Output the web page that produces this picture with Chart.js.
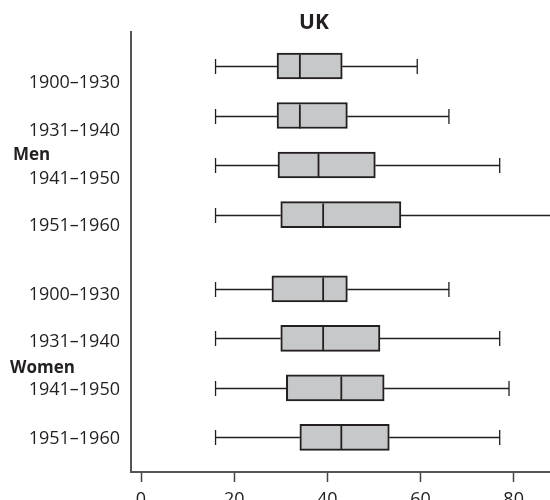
<!DOCTYPE html>
<html>
<head>
<meta charset="utf-8">
<script src="https://cdn.jsdelivr.net/npm/chart.js@4"></script>
<style>
  body { margin: 0; background: #fff; }
  #wrap { width: 550px; height: 500px; }
</style>
</head>
<body>
<div id="wrap"><canvas id="chart"></canvas></div>
<script>
const periods = ['1900–1930', '1931–1940', '1941–1950', '1951–1960'];
const groups = ['Men', 'Women'];

const menMin = [16, 16, 16, 16];
const menQ1 = [29.2, 29.2, 29.4, 30];
const menMed = [34.1, 34.1, 38.1, 39.1];
const menQ3 = [43.2, 44.3, 50.3, 55.8];
const menMax = [59.3, 66.1, 77, 90];

const womenMin = [16, 16, 16, 16];
const womenQ1 = [28.1, 30, 31.2, 34.1];
const womenMed = [39.1, 39.1, 43, 43];
const womenQ3 = [44.3, 51.3, 52.2, 53.3];
const womenMax = [66.1, 77, 79, 77];

const xTicks = [0, 20, 40, 60, 80];

// row slots on the vertical axis (men 0-3, gap, women 4.5-7.5)
const rowPos = [0, 1, 2, 3, 4.5, 5.5, 6.5, 7.5];

const mins = menMin.concat(womenMin);
const q1s = menQ1.concat(womenQ1);
const meds = menMed.concat(womenMed);
const q3s = menQ3.concat(womenQ3);
const maxs = menMax.concat(womenMax);
const rowLabels = periods.concat(periods);

const FONT = '"Open Sans", "Noto Sans", sans-serif';
const INK = '#231f20';

// label placement (in row units) for the left-hand text
const labelAt = [0.34, 1.3, 2.27, 3.23, 4.63, 5.58, 6.55, 7.54];
const groupAt = [1.8, 6.1];

const boxPlot = {
  id: 'boxPlot',
  afterDatasetsDraw(chart) {
    const { ctx, chartArea } = chart;
    const x = chart.scales.x, y = chart.scales.y;
    ctx.save();
    ctx.beginPath();
    ctx.rect(chartArea.left, 0, chartArea.right - chartArea.left + 1, chartArea.bottom);
    ctx.clip();
    ctx.strokeStyle = INK;
    rowPos.forEach((p, i) => {
      const cy = Math.round(y.getPixelForValue(p)) + 0.5;
      const xMin = x.getPixelForValue(mins[i]);
      const xQ1 = x.getPixelForValue(q1s[i]);
      const xQ3 = x.getPixelForValue(q3s[i]);
      const xMax = x.getPixelForValue(maxs[i]);
      const xMed = x.getPixelForValue(meds[i]);
      ctx.lineWidth = 1.3;
      ctx.beginPath();
      ctx.moveTo(xMin, cy); ctx.lineTo(xQ1, cy);
      ctx.moveTo(xQ3, cy); ctx.lineTo(xMax, cy);
      ctx.moveTo(xMin, cy - 7.5); ctx.lineTo(xMin, cy + 7.5);
      ctx.moveTo(xMax, cy - 7.5); ctx.lineTo(xMax, cy + 7.5);
      ctx.stroke();
      ctx.lineWidth = 1.8;
      ctx.beginPath();
      ctx.moveTo(xMed, cy - 12); ctx.lineTo(xMed, cy + 12);
      ctx.stroke();
    });
    ctx.restore();

    ctx.save();
    ctx.fillStyle = INK;
    ctx.textBaseline = 'middle';
    ctx.textAlign = 'right';
    ctx.font = '18px ' + FONT;
    rowLabels.forEach((t, i) => {
      ctx.fillText(t, 120, y.getPixelForValue(labelAt[i]));
    });
    ctx.textAlign = 'left';
    ctx.font = 'bold 17px ' + FONT;
    ctx.fillText(groups[0], 13, y.getPixelForValue(groupAt[0]));
    ctx.fillText(groups[1], 10, y.getPixelForValue(groupAt[1]));
    ctx.textAlign = 'center';
    ctx.font = 'bold 21px ' + FONT;
    ctx.fillText('UK', 314, 23);
    ctx.restore();
  }
};

new Chart(document.getElementById('chart'), {
  type: 'bar',
  data: {
    datasets: [{
      data: rowPos.map((p, i) => ({ x: [q1s[i], q3s[i]], y: p })),
      backgroundColor: '#c7c8ca',
      borderColor: INK,
      borderWidth: 2,
      borderSkipped: false,
      barThickness: 26
    }]
  },
  options: {
    indexAxis: 'y',
    responsive: true,
    maintainAspectRatio: false,
    animation: false,
    layout: { padding: { top: 32, left: 0, right: 0, bottom: 0 } },
    plugins: {
      legend: { display: false },
      title: { display: false },
      tooltip: { enabled: false }
    },
    scales: {
      x: {
        type: 'linear',
        min: -2.15,
        max: 87.8,
        afterBuildTicks: s => { s.ticks = xTicks.map(v => ({ value: v })); },
        afterFit: s => { s.height = 28; },
        ticks: {
          color: INK,
          font: { family: FONT, size: 18 },
          padding: 7,
          maxRotation: 0
        },
        grid: {
          display: true,
          drawOnChartArea: false,
          drawTicks: true,
          tickLength: 10,
          tickWidth: 1.5,
          tickColor: '#444'
        },
        border: { display: true, color: '#555', width: 2 }
      },
      y: {
        type: 'linear',
        reverse: true,
        offset: false,
        min: -0.687,
        max: 8.2,
        afterFit: s => { s.width = 131; },
        ticks: { display: false },
        grid: { display: false },
        border: { display: true, color: '#555', width: 2 }
      }
    }
  },
  plugins: [boxPlot]
});
</script>
</body>
</html>
